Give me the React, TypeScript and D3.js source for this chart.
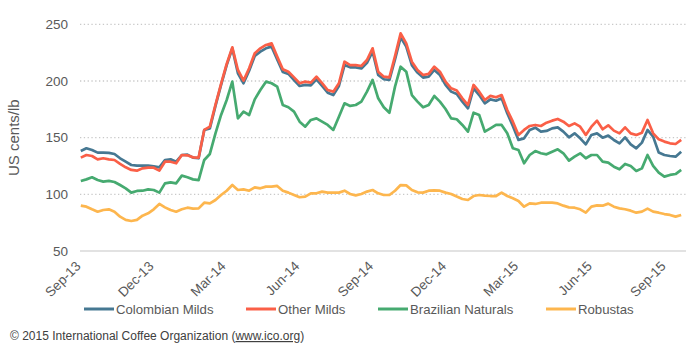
import React, { useEffect, useRef } from 'react';
import * as d3 from 'd3';

// weekly prices, US cents/lb, first week starting 2 Sep 2013
const startDate = new Date(2013, 8, 2);

const colombianMilds = [
  138.2, 140.6, 139.1, 136.8, 136.8, 136.5, 135.6, 131.8, 128.8, 125.9, 125.3, 125.3, 125.3, 124.7,
  123.8, 130.3, 130.9, 128.8, 134.7, 135, 132.4, 131.8, 156.8, 158.2, 178, 196.5, 214, 228.8,
  206.8, 198, 209, 222, 225.9, 228.8, 230.3, 219, 208, 206.2, 200.9, 195.6, 196.5, 196.2,
  201.5, 195.6, 189.7, 187.6, 195.6, 214, 212, 212, 211, 216, 225.9, 205.3, 201.5,
  200.9, 219, 238.5, 230.3, 214, 207.4, 203, 203.8, 209.7, 205.3, 196.5, 190.6, 188.5,
  181.8, 175.9, 193.5, 187.6, 180.3, 183.8, 182.6, 184.7, 171.5, 160.3, 148, 149.4, 156.8,
  158.8, 155.3, 155.9, 158.2, 159.1, 155.3, 150.3, 153.8, 149.4, 144.1, 152.4, 153.8, 150,
  151.8, 147.9, 145, 150.3, 144.1, 140.6, 145.6, 156.8, 150.9, 136.8, 134.7, 133.8, 133.2, 137.6,
];

const otherMilds = [
  132.4, 134.7, 133.8, 130.9, 131.8, 130.9, 130.3, 126.8, 123.8, 121.5, 120.9, 122.9, 123.5, 123.5,
  120.9, 128.8, 128.8, 127.4, 134.7, 134.4, 132.6, 132.4, 156.8, 159.7, 179, 197.4, 215, 229.7,
  209.7, 200.3, 211.2, 224.4, 228.8, 231.8, 233.2, 221.5, 210.3, 208.2, 203.2, 198, 199.4, 198.5,
  203.8, 198, 192, 190.6, 198, 217, 214, 214, 213.2, 218.5, 228.8, 208.2, 203.8,
  203.2, 222, 242, 233.2, 217, 209.7, 205.3, 206.2, 212.6, 208.2, 199.4, 193.5, 191.5,
  184.7, 178.8, 196.5, 190.6, 183.2, 186.8, 185.6, 187.6, 174.4, 164.1, 152.4, 156.8, 160.3,
  161.2, 160.3, 163.2, 165, 166.5, 164.1, 160.3, 162.6, 159.7, 152.4, 159.7, 165, 157.4,
  160.9, 156.2, 153.8, 159.1, 153.8, 152.4, 154.4, 165.6, 153.8, 148.5, 146.5, 145, 144.4, 148,
];

const brazilianNaturals = [
  111.8, 113.2, 115, 112.6, 111.2, 111.8, 110.9, 108.2, 105.3, 101.5, 103, 103.2, 104.4, 103.8,
  101.5, 109.7, 110.6, 109.7, 116.5, 115, 113.2, 112.6, 130.3, 135.6, 153.8, 170, 183.2, 199.4,
  167, 173, 170, 183.8, 192, 199.4, 198, 195, 178.8, 176.8, 173, 164.1, 159.7, 165.6,
  167, 164.1, 161.2, 156.8, 168.5, 180.3, 178, 178.8, 181.8, 190.6, 200.9, 184.7, 176.8,
  172, 195, 212.6, 208.2, 187.6, 181.8, 176.8, 178.8, 186.8, 181.8, 175.3, 167, 166.2,
  161.2, 155.3, 172, 170, 155.3, 158.2, 161.2, 161.2, 153.8, 140.6, 139.1, 127.4, 134.7,
  138.2, 136.2, 135.3, 137.6, 139.7, 136.2, 129.7, 133.2, 136.2, 131.8, 134.7, 134.7, 128.8,
  127.9, 124.4, 122.1, 126.8, 125, 120.6, 122.9, 134.7, 125, 119.1, 115.6, 117.1, 117.9, 121.5,
];

const robustas = [
  90, 89.1, 86.8, 84.7, 86.2, 86.8, 84.7, 80.3, 77.4, 76.5, 77.4, 81.2, 83.2, 86.8,
  91.5, 88.5, 86.2, 84.7, 86.8, 88.2, 87.4, 87.6, 92.6, 92, 95, 99.4, 103.2, 108.2,
  103.8, 104.4, 103.2, 106.2, 105.3, 106.8, 106.8, 107.4, 103.2, 101.5, 99.4, 97.4, 98, 100.9,
  100.9, 102.4, 101.5, 101.5, 101.5, 103.2, 100.3, 99.1, 100.3, 102.4, 103.8, 100.9, 99.4,
  99.4, 103.2, 108.2, 107.9, 103.8, 101.8, 101.5, 103.2, 103.5, 103.2, 101.5, 100.3, 98,
  95.9, 95, 98.5, 99.4, 98.8, 98.5, 98.5, 101.5, 98.5, 96.5, 94.1, 89.1, 92,
  91.5, 92.6, 92.6, 92.6, 92, 90, 88.5, 88.2, 86.8, 83.8, 89.1, 90.3, 90,
  91.8, 89.1, 87.6, 86.8, 85.6, 83.8, 84.7, 87.4, 84.7, 83.8, 82.6, 81.8, 80.3, 81.8,
];

const seriesNames = ['Colombian Milds', 'Other Milds', 'Brazilian Naturals', 'Robustas'];
const seriesColors = ['#467892', '#fa5f47', '#46aa70', '#fdb64e'];
const yTicks = [50, 100, 150, 200, 250];
const xTickDates = [
  new Date(2013, 8, 1), new Date(2013, 11, 1), new Date(2014, 2, 1),
  new Date(2014, 5, 1), new Date(2014, 8, 1), new Date(2014, 11, 1),
  new Date(2015, 2, 1), new Date(2015, 5, 1), new Date(2015, 8, 1),
];
const legendX = [84, 246, 378, 546];

const font = '"Liberation Sans", Arial, Helvetica, sans-serif';

const App = () => {
  const svgRef = useRef<SVGSVGElement>(null);

  useEffect(() => {
    const svg = d3.select(svgRef.current);
    svg.selectAll('*').remove();

    const allSeries = [colombianMilds, otherMilds, brazilianNaturals, robustas];
    const dates = colombianMilds.map((_, i) => d3.timeDay.offset(startDate, i * 7));

    const x = d3.scaleTime().domain([new Date(2013, 8, 1), new Date(2015, 8, 27)]).range([80, 686]);
    const y = d3.scaleLinear().domain([50, 250]).range([251, 24.3]);

    // gridlines
    svg
      .append('g')
      .selectAll('line')
      .data(yTicks.filter((d) => d > 50))
      .enter()
      .append('line')
      .attr('x1', 80)
      .attr('x2', 686)
      .attr('y1', (d) => y(d))
      .attr('y2', (d) => y(d))
      .attr('stroke', '#c9c9c9')
      .attr('stroke-width', 1.3)
      .attr('stroke-dasharray', '1.3 2.5');

    svg
      .append('line')
      .attr('x1', 80)
      .attr('x2', 686)
      .attr('y1', y(50))
      .attr('y2', y(50))
      .attr('stroke', '#d9d9d9')
      .attr('stroke-width', 1.3);

    // y labels
    svg
      .append('g')
      .selectAll('text')
      .data(yTicks)
      .enter()
      .append('text')
      .attr('x', 68)
      .attr('y', (d) => y(d))
      .attr('dy', '0.35em')
      .attr('text-anchor', 'end')
      .style('font-family', font)
      .style('font-size', '13.5px')
      .attr('fill', '#595959')
      .text((d) => d);

    svg
      .append('text')
      .attr('transform', `translate(19,${(y(50) + y(250)) / 2}) rotate(-90)`)
      .attr('text-anchor', 'middle')
      .style('font-family', font)
      .style('font-size', '15px')
      .attr('fill', '#595959')
      .text('US cents/lb');

    // x labels
    const fmt = d3.timeFormat('%b-%y');
    svg
      .append('g')
      .selectAll('text')
      .data(xTickDates)
      .enter()
      .append('text')
      .attr('transform', (d) => `translate(${x(d) + 1.5},267) rotate(-45)`)
      .attr('text-anchor', 'end')
      .style('font-family', font)
      .style('font-size', '13.5px')
      .attr('fill', '#595959')
      .text((d) => fmt(d));

    // lines
    const line = d3
      .line<number>()
      .x((_, i) => x(dates[i]))
      .y((d) => y(d));

    [0, 1, 2, 3].forEach((k) => {
      svg
        .append('path')
        .datum(allSeries[k])
        .attr('d', line)
        .attr('fill', 'none')
        .attr('stroke', seriesColors[k])
        .attr('stroke-width', 2.7)
        .attr('stroke-linejoin', 'round');
    });

    // legend
    const legend = svg.append('g');
    seriesNames.forEach((name, k) => {
      legend
        .append('line')
        .attr('x1', legendX[k])
        .attr('x2', legendX[k] + 30)
        .attr('y1', 309)
        .attr('y2', 309)
        .attr('stroke', seriesColors[k])
        .attr('stroke-width', 3);
      legend
        .append('text')
        .attr('x', legendX[k] + 32)
        .attr('y', 309)
        .attr('dy', '0.35em')
        .style('font-family', font)
        .style('font-size', '13.2px')
        .attr('fill', '#595959')
        .text(name);
    });

    // footer
    const footer = svg
      .append('text')
      .attr('x', 10)
      .attr('y', 340)
      .style('font-family', font)
      .style('font-size', '12px')
      .attr('fill', '#404040');
    footer.append('tspan').text('© 2015 International Coffee Organization (');
    footer.append('tspan').attr('text-decoration', 'underline').text('www.ico.org');
    footer.append('tspan').text(')');
  }, []);

  return (
    <svg
      ref={svgRef}
      width={698}
      height={350}
      style={{ position: 'absolute', left: 0, top: 0, background: '#fff' }}
    />
  );
};

export default App;
